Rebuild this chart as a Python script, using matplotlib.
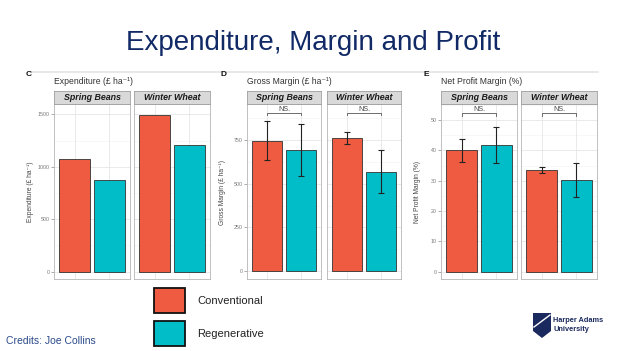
import matplotlib
matplotlib.use('Agg')
import matplotlib.pyplot as plt
from matplotlib.patches import Rectangle, Polygon

plt.rcParams['font.family'] = ['Liberation Sans', 'DejaVu Sans']

W, H = 624, 351

crops = ['Spring Beans', 'Winter Wheat']
treatments = ['Conventional', 'Regenerative']
colours = ['#EE5B40', '#00BDC7']

# values per crop: [conventional, regenerative]
expenditure = [[1076, 878], [1497, 1213]]

gross_margin = [[747, 694], [761, 568]]
gm_low = [[636, 545], [728, 449]]
gm_high = [[858, 843], [793, 690]]

net_profit = [[40.0, 41.9], [33.5, 30.3]]
np_low = [[36.2, 36.0], [32.4, 24.8]]
np_high = [[43.7, 47.8], [34.5, 35.8]]

fig = plt.figure(figsize=(W / 100, H / 100), dpi=100)


def ax_at(x0, y0, x1, y1):
    return fig.add_axes([x0 / W, 1 - y1 / H, (x1 - x0) / W, (y1 - y0) / H])


panels = [
    dict(tag='C', title='Expenditure (£ ha⁻¹)', ylab='Expenditure (£ ha⁻¹)',
         vals=expenditure, low=None, high=None, ticks=[0, 500, 1000, 1500],
         ylim=(-73, 1600), xs=[(54, 130), (134, 210)], ns=None, ylx=31, tagx=26),
    dict(tag='D', title='Gross Margin (£ ha⁻¹)', ylab='Gross Margin (£ ha⁻¹)',
         vals=gross_margin, low=gm_low, high=gm_high, ticks=[0, 250, 500, 750],
         ylim=(-47, 956), xs=[(247, 321), (327, 401)], ns=(904, 12), ylx=223, tagx=220),
    dict(tag='E', title='Net Profit Margin (%)', ylab='Net Profit Margin (%)',
         vals=net_profit, low=np_low, high=np_high, ticks=[0, 10, 20, 30, 40, 50],
         ylim=(-2.5, 55.3), xs=[(441, 517), (521, 597.3)], ns=(52.2, 0.8), ylx=418, tagx=424),
]

for p in panels:
    for k, crop in enumerate(crops):
        x0, x1 = p['xs'][k]
        ax = ax_at(x0, 104, x1, 279.3)
        ax.set_xlim(0.4, 2.6)
        ax.set_ylim(*p['ylim'])
        step = p['ticks'][1] - p['ticks'][0]
        for t in p['ticks']:
            ax.axhline(t, color='#E6E6E6', lw=0.6, zorder=0)
            ax.axhline(t + step / 2, color='#F2F2F2', lw=0.4, zorder=0)
        for xv in [1, 2]:
            ax.axvline(xv, color='#E6E6E6', lw=0.6, zorder=0)
        ax.bar([1, 2], p['vals'][k], width=0.9, color=colours,
               edgecolor='#333333', lw=0.6, zorder=2)
        if p['low'] is not None:
            for j in range(2):
                v = p['vals'][k][j]
                ax.errorbar(j + 1, v, yerr=[[v - p['low'][k][j]], [p['high'][k][j] - v]],
                            color='#222222', lw=0.8, capsize=2.2, capthick=0.8, zorder=3)
        if p['ns'] is not None:
            yb, d = p['ns']
            ax.plot([1, 1, 2, 2], [yb - d, yb, yb, yb - d], color='#555555', lw=0.6, zorder=3)
            ax.text(1.5, yb, 'NS.', ha='center', va='bottom', fontsize=5.2, color='#444444')
        ax.set_xticks([])
        ax.set_yticks(p['ticks'])
        if k == 0:
            ax.tick_params(axis='y', labelsize=3.8, labelcolor='#777777', color='#888888',
                           length=2, width=0.5, pad=1)
        else:
            ax.tick_params(axis='y', left=False, labelleft=False)
        for s in ax.spines.values():
            s.set_color('#B5B5B5')
            s.set_linewidth(0.6)

        sax = ax_at(x0, 91, x1, 104)
        sax.set_facecolor('#D9D9D9')
        sax.set_xticks([])
        sax.set_yticks([])
        for s in sax.spines.values():
            s.set_color('#A0A0A0')
            s.set_linewidth(0.6)
        sax.text(0.5, 0.47, crop, transform=sax.transAxes, ha='center', va='center',
                 fontsize=6.4, fontweight='bold', fontstyle='italic', color='#1A1A1A')

    fig.text(p['tagx'] / W, 1 - 75 / H, p['tag'], fontsize=6, fontweight='bold',
             ha='left', va='center', color='#111111')
    fig.text(p['xs'][0][0] / W, 1 - 82 / H, p['title'], fontsize=6.2,
             ha='left', va='center', color='#333333')
    fig.text(p['ylx'] / W, 1 - 192 / H, p['ylab'], fontsize=4.8, rotation=90,
             ha='center', va='center', color='#444444')

# title and rule
fig.text(313 / W, 1 - 43 / H, 'Expenditure, Margin and Profit', fontsize=20,
         ha='center', va='center', color='#112A66')
fig.add_artist(plt.Line2D([30 / W, 598 / W], [1 - 71.5 / H, 1 - 71.5 / H],
                          color='#E4E4E4', lw=1.2))

# legend
for i, (lab, col) in enumerate(zip(treatments, colours)):
    y0 = [287.5, 320.5][i]
    fig.add_artist(Rectangle((153.5 / W, 1 - (y0 + 25) / H), 31 / W, 25 / H,
                             transform=fig.transFigure, facecolor=col,
                             edgecolor='#111111', lw=1.3))
    fig.text(197 / W, 1 - (y0 + 13.5) / H, lab, fontsize=8, ha='left', va='center',
             color='#222222')

fig.text(6 / W, 1 - 341 / H, 'Credits: Joe Collins', fontsize=7.5, ha='left',
         va='center', color='#2B4A8B')

# logo
shield = [(533, 313), (551, 313), (551, 331), (542, 338), (533, 331)]
fig.add_artist(Polygon([(x / W, 1 - y / H) for x, y in shield], closed=True,
                       transform=fig.transFigure, facecolor='#1B2A5E', edgecolor='none'))
fig.add_artist(plt.Line2D([534 / W, 550 / W], [1 - 327 / H, 1 - 315 / H],
                          color='white', lw=1.0))
fig.text(553 / W, 1 - 320.5 / H, 'Harper Adams', fontsize=5.3, fontweight='bold',
         ha='left', va='center', color='#1B2A5E')
fig.text(553 / W, 1 - 329.5 / H, 'University', fontsize=5.3, fontweight='bold',
         ha='left', va='center', color='#1B2A5E')

fig.savefig('out.png', dpi=100)
